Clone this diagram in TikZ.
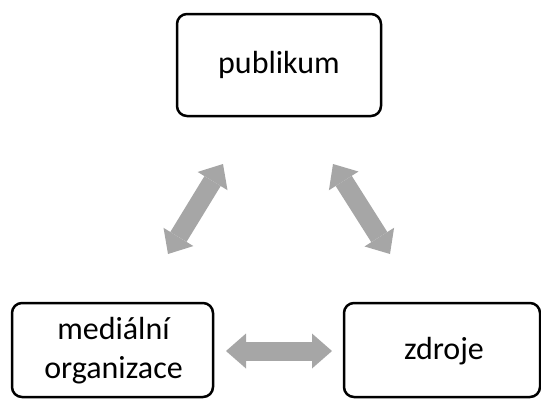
\documentclass[tikz,border=0pt]{standalone}
\usepackage{fontspec}
\setmainfont{Carlito}
\usetikzlibrary{arrows.meta}
\definecolor{arrowgray}{HTML}{A6A6A6}
\begin{document}
\begin{tikzpicture}[x=1pt,y=-1pt,
  box/.style={draw=black, line width=2.5pt, rounded corners=10pt, fill=white},
  txt/.style={font=\fontsize{32}{39}\selectfont, align=center, inner sep=0pt},
  link/.style={draw=arrowgray, line width=19pt,
    arrows={Triangle[length=20pt,width=35pt,line width=0pt]-Triangle[length=20pt,width=35pt,line width=0pt]}}]
\useasboundingbox (0,0) rectangle (541,399);
% boxes
\draw[box] (177,14) rectangle (381,116);
\draw[box] (12,303) rectangle (213,397);
\draw[box] (344,303) rectangle (540,397);
\node[txt] (pub) at (279,65) {publikum};
\node[txt] (med) at (113.5,351) {mediální\\organizace};
\node[txt] (zdr) at (444,351) {zdroje};
% arrow end points
\coordinate (l1) at (223,164);
\coordinate (l2) at (168,254);
\coordinate (r1) at (333,164);
\coordinate (r2) at (390,254);
\coordinate (h1) at (226,351);
\coordinate (h2) at (332,351);
\draw[link] (l1) -- (l2);
\draw[link] (r1) -- (r2);
\draw[link] (h1) -- (h2);
\end{tikzpicture}
\end{document}
